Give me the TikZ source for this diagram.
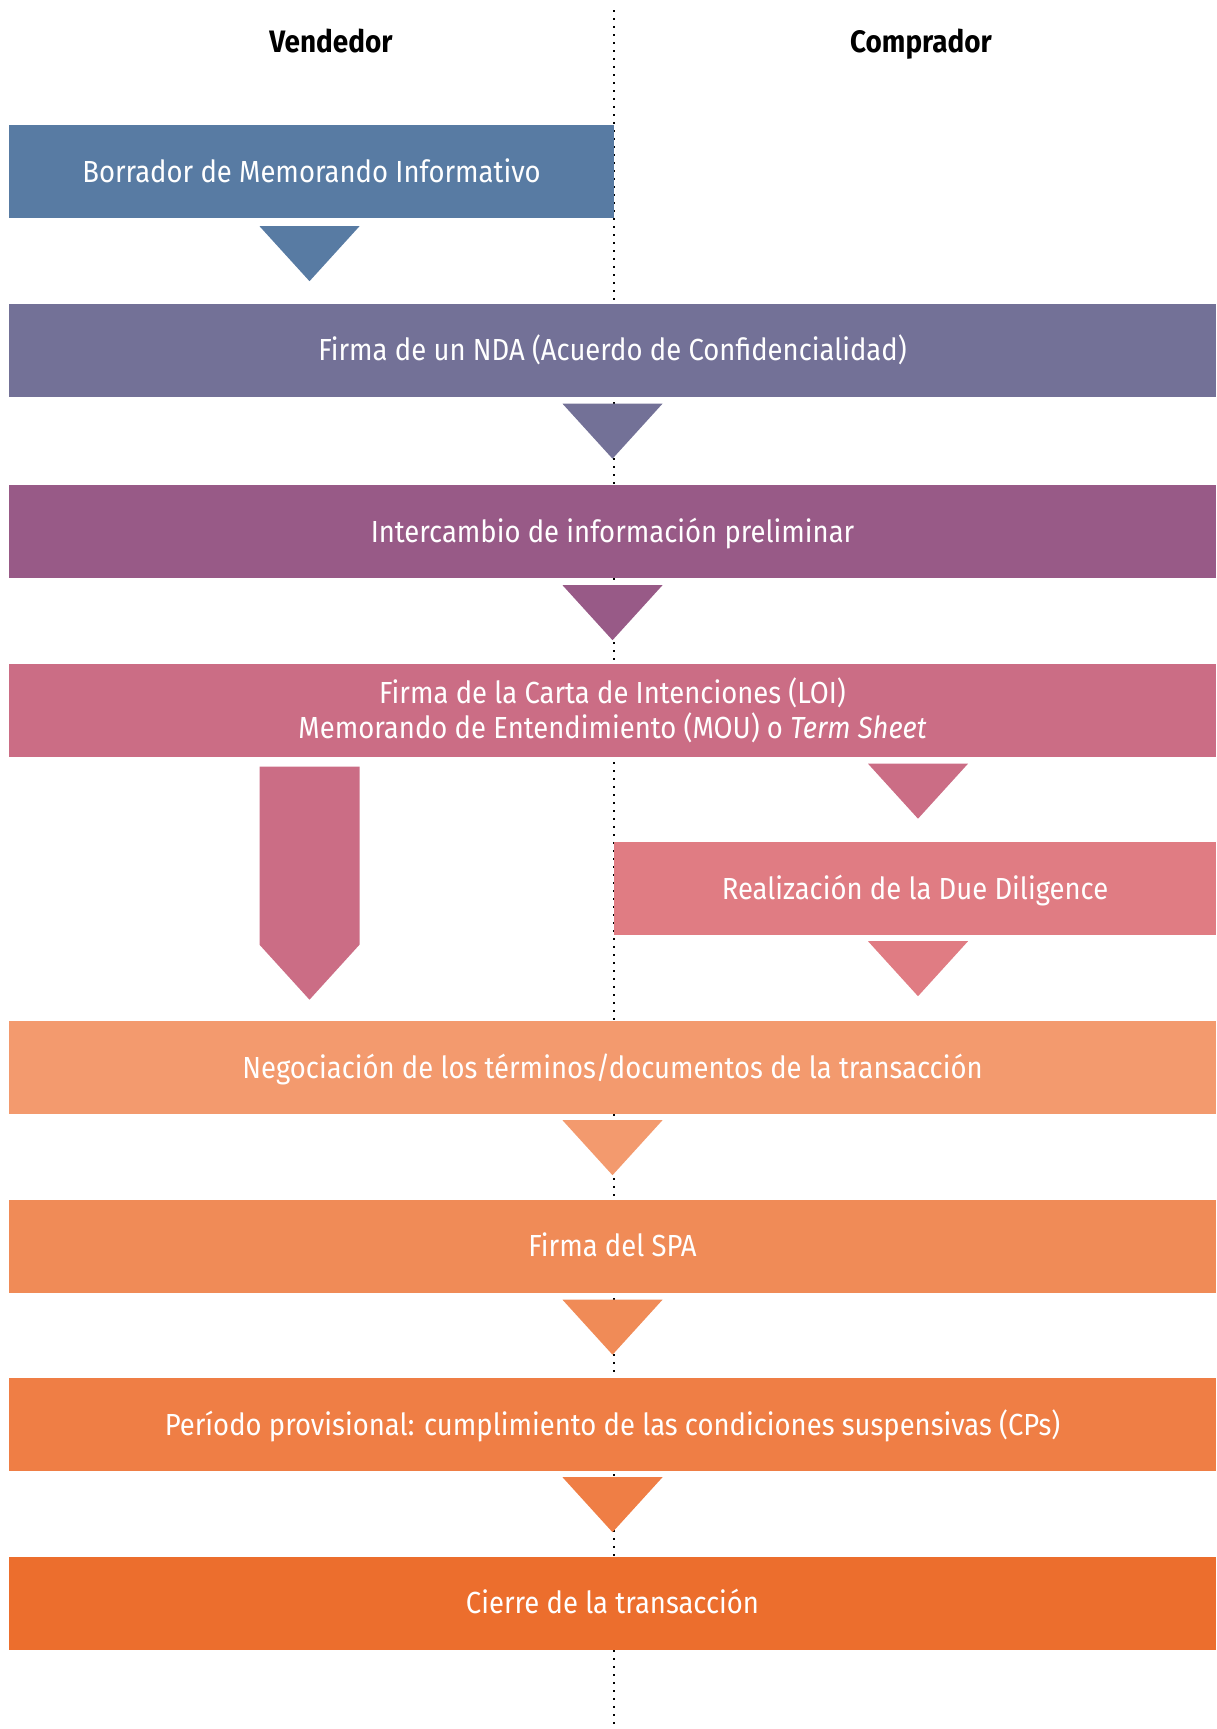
\documentclass[tikz,border=0pt]{standalone}
\usepackage{fontspec}
\setmainfont{Fira Sans}[FakeStretch=0.9]
\usepackage{tikz}

\definecolor{draftblue}{HTML}{587BA3}
\definecolor{ndaviolet}{HTML}{737197}
\definecolor{infoplum}{HTML}{985A87}
\definecolor{loirose}{HTML}{CB6D85}
\definecolor{ddpink}{HTML}{E07C83}
\definecolor{negpeach}{HTML}{F39A6E}
\definecolor{spaorange}{HTML}{F08B57}
\definecolor{cpsorange}{HTML}{EF7E45}
\definecolor{closeorange}{HTML}{EC6E2D}

\tikzset{
  stage/.style={rectangle, fill=#1, text=white, inner sep=0pt,
    minimum height=93pt, align=center,
    font=\fontsize{30.5}{35}\selectfont},
  oneline/.style={text height=25pt, text depth=4pt},
  party/.style={font=\fontsize{31}{36}\selectfont\bfseries,
    text height=23pt, text depth=8pt},
  splitline/.style={line width=2pt, dash pattern=on 2pt off 6pt},
}

\begin{document}
\begin{tikzpicture}[x=1pt,y=-1pt]
  \useasboundingbox (0,0) rectangle (1216,1729);

  \coordinate (top) at (614,10);
  \coordinate (bot) at (614,1729);
  \draw[splitline] (top) -- (bot);

  \node[party] (seller) at (331,45) {Vendedor};
  \node[party] (buyer)  at (921,45) {Comprador};

  \node[stage=draftblue,   oneline, minimum width=605pt]  (brd) at (311.5,171.5) {Borrador de Memorando Informativo};
  \node[stage=ndaviolet,   oneline, minimum width=1207pt] (nda) at (612.5,350)   {Firma de un NDA (Acuerdo de Confidencialidad)};
  \node[stage=infoplum,    oneline, minimum width=1207pt] (inf) at (612.5,531.5) {Intercambio de información preliminar};
  \node[stage=loirose,              minimum width=1207pt] (loi) at (612.5,710)   {Firma de la Carta de Intenciones (LOI)\\Memorando de Entendimiento (MOU) o \textit{Term Sheet}};
  \node[stage=ddpink,      oneline, minimum width=602pt]  (dd)  at (915,888.5)   {Realización de la Due Diligence};
  \node[stage=negpeach,    oneline, minimum width=1207pt] (neg) at (612.5,1067.5){Negociación de los términos/documentos de la transacción};
  \node[stage=spaorange,   oneline, minimum width=1207pt] (spa) at (612.5,1246)  {Firma del SPA};
  \node[stage=cpsorange,   oneline, minimum width=1207pt] (cps) at (612.5,1424.5){Período provisional: cumplimiento de las condiciones suspensivas (CPs)};
  \node[stage=closeorange, oneline, minimum width=1207pt] (cls) at (612.5,1603)  {Cierre de la transacción};

  % arrows between the steps
  \fill[draftblue] (brd.south) ++(-52,8) -- ++(100,0) -- ++(-50,55) -- cycle;
  \fill[ndaviolet] (nda.south) ++(-50,7) -- ++(100,0) -- ++(-50,55) -- cycle;
  \fill[infoplum]  (inf.south) ++(-50,7) -- ++(100,0) -- ++(-50,55) -- cycle;
  \fill[loirose]   (loi.south -| brd.south) ++(-52,10) -- ++(100,0) -- ++(0,178)
                   -- ++(-50,55) -- ++(-50,-55) -- cycle;
  \fill[loirose]   (loi.south -| dd.north) ++(-47,7) -- ++(100,0) -- ++(-50,55) -- cycle;
  \fill[ddpink]    (dd.south) ++(-47,6) -- ++(100,0) -- ++(-50,55) -- cycle;
  \fill[negpeach]  (neg.south) ++(-50,6) -- ++(100,0) -- ++(-50,55) -- cycle;
  \fill[spaorange] (spa.south) ++(-50,7) -- ++(100,0) -- ++(-50,55) -- cycle;
  \fill[cpsorange] (cps.south) ++(-50,6) -- ++(100,0) -- ++(-50,55) -- cycle;
\end{tikzpicture}
\end{document}
